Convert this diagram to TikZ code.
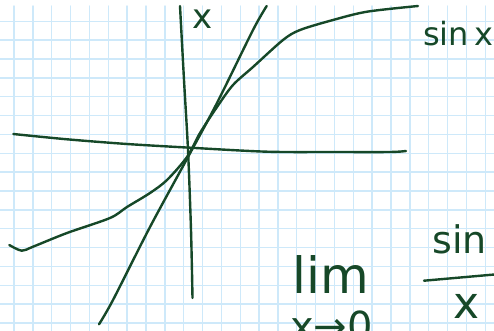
\documentclass[tikz,border=0pt]{standalone}
\usepackage{fontspec}
\setmainfont{DejaVu Sans}
\definecolor{ink}{RGB}{22,72,40}
\definecolor{gridblue}{RGB}{206,233,250}
\begin{document}
\begin{tikzpicture}[x=1pt, y=-1pt, line cap=round, line join=round]
  \useasboundingbox (0,0) rectangle (494,331);
  \clip (0,0) rectangle (494,331);
  \fill[white] (0,0) rectangle (494,331);
  % Grid paper
  \foreach \i in {0,...,25}
    \draw[gridblue, line width=1.4pt] ({14+18.85*\i},6) -- ({14+18.85*\i},331);
  \foreach \j in {0,...,16}
    \draw[gridblue, line width=1.4pt] (0,{21.3+18.85*\j}) -- (494,{21.3+18.85*\j});
  % Axes
  \draw[ink, line width=2.4pt] plot[smooth] coordinates
    {(180,6) (184,80) (188,150) (191,230) (192.5,298)};
  \draw[ink, line width=2.4pt] plot[smooth] coordinates
    {(13.3,134) (67,139.3) (127,144) (190,147.7) (267,151.7) (333,152) (390,152) (406,151)};
  % Line y = x
  \draw[ink, line width=2.4pt] plot[smooth] coordinates
    {(99,324.3) (113,300) (150,227) (188,157) (217,103) (253,30) (266.7,6)};
  % Curve y = sin x
  \draw[ink, line width=2.4pt] plot[smooth] coordinates
    {(9.3,245) (21.7,250.7) (33,246.7) (67,233) (110,218) (127,207) (150,193)
     (167,180) (187,157) (200,133) (217,107) (233,85) (253,67) (283,40)
     (300,30) (333,20) (367,11.7) (418,6)};
  % Labels
  \node[ink, font=\fontsize{34}{34}\selectfont, inner sep=0, anchor=base west]
    (xlabel) at (192,29) {x};
  \node[ink, font=\fontsize{32}{32}\selectfont, inner sep=0, anchor=base west]
    (sinlabel) at (423,46) {sin\,x};
  % Limit
  \node[ink, font=\fontsize{50}{50}\selectfont, inner sep=0, anchor=base west]
    (lim) at (292,293) {lim};
  \node[ink, font=\fontsize{40}{40}\selectfont, inner sep=0, anchor=base west]
    (limsub) at (290,340) {x→0};
  \node[ink, font=\fontsize{38}{38}\selectfont, inner sep=0, anchor=base west]
    (numer) at (432,253) {sin x};
  \node[ink, font=\fontsize{44}{44}\selectfont, inner sep=0, anchor=base west]
    (denom) at (453,318) {x};
  \coordinate (barL) at (424,280.7);
  \coordinate (barR) at (500,274);
  \draw[ink, line width=2.4pt] (barL) -- (barR);
\end{tikzpicture}
\end{document}
